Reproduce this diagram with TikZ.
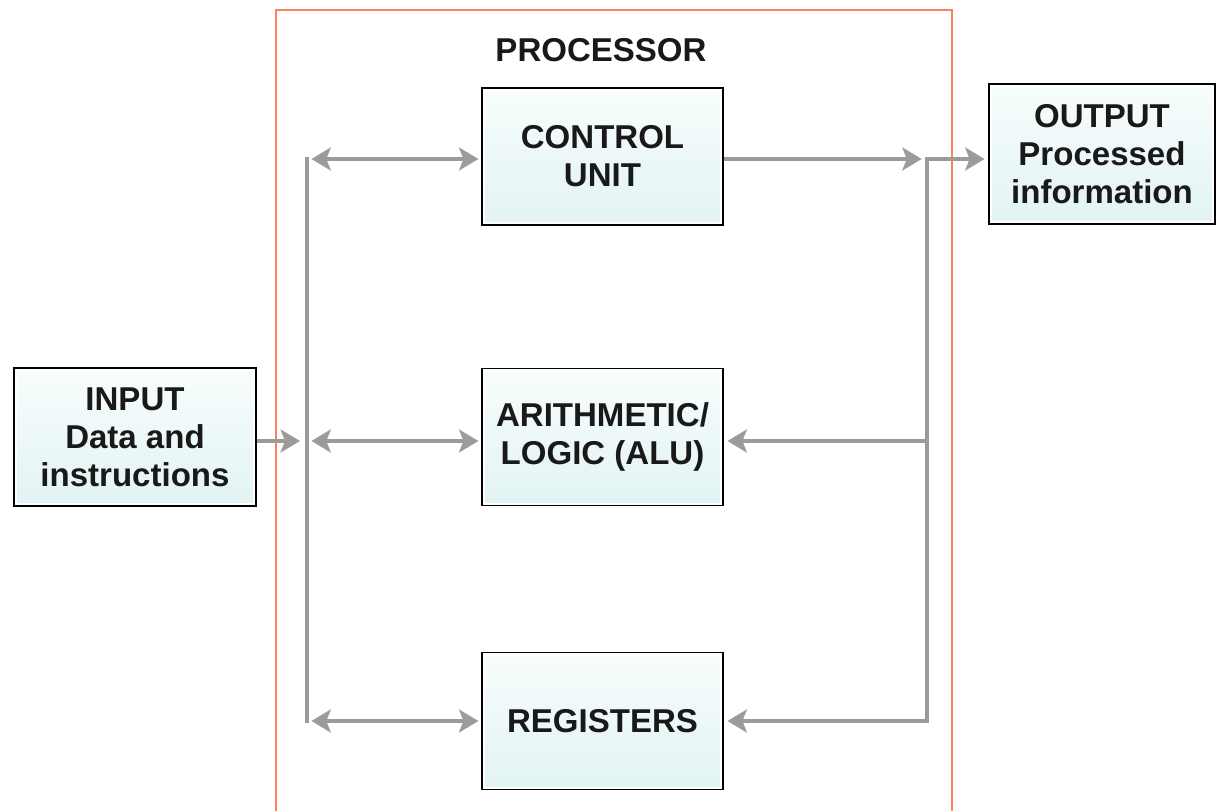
\documentclass[tikz,border=0pt]{standalone}
\usepackage{fontspec}
\setmainfont{Liberation Sans}
\usetikzlibrary{arrows.meta}

\definecolor{busgray}{RGB}{155,155,155}
\definecolor{frameorange}{RGB}{250,130,95}
\definecolor{boxtop}{RGB}{248,253,253}
\definecolor{boxbottom}{RGB}{226,243,243}
\definecolor{labeltext}{RGB}{25,25,25}

\begin{document}
\begin{tikzpicture}[
	x=0.02cm, y=-0.02cm,
	unit box/.style={draw=black, line width=1.1pt, top color=boxtop, bottom color=boxbottom,
		minimum width=4.82cm, minimum height=2.74cm, inner sep=0pt, align=center,
		text=labeltext, font=\bfseries\fontsize{18.8}{21.6}\selectfont,
		path picture={\draw[white, line width=3.4pt] (path picture bounding box.south west)
			rectangle (path picture bounding box.north east);}},
	bus line/.style={draw=busgray, line width=2.6pt, line cap=rect},
	bus arrow/.style={draw=busgray, line width=2.6pt,
		-{Stealth[length=11pt, width=13pt, inset=2.5pt]}},
	bus both/.style={draw=busgray, line width=2.6pt,
		{Stealth[length=11pt, width=13pt, inset=2.5pt]}-{Stealth[length=11pt, width=13pt, inset=2.5pt]}},
	frame line/.style={draw=frameorange, line width=1.1pt},
	title label/.style={text=labeltext, font=\bfseries\fontsize{18.8}{21.6}\selectfont},
	]
	\useasboundingbox (0,0) rectangle (1217,811);
	
	% processor frame, open at the bottom
	\draw[frame line] (276,811) -- (276,10) -- (952,10) -- (952,811);
	\node[title label] (proc) at (601,50) {PROCESSOR};
	
	% units inside the processor
	\node[unit box] (cu) at (602.5,156.5) {CONTROL\\UNIT};
	\node[unit box] (alu) at (602.5,437) {ARITHMETIC/\\LOGIC (ALU)};
	\node[unit box] (rg) at (602.5,721) {REGISTERS};
	
	% input and output
	\node[unit box, minimum width=4.84cm, minimum height=2.76cm] (in) at (135,437) {INPUT\\Data and\\instructions};
	\node[unit box, minimum width=4.52cm, minimum height=2.8cm] (out) at (1102,154) {OUTPUT\\Processed\\information};
	
	% bus corners
	\coordinate (lt) at (307,159);
	\coordinate (lm) at (307,441);
	\coordinate (lb) at (307,721);
	\coordinate (rt) at (927,159);
	\coordinate (rm) at (927,441);
	\coordinate (rb) at (927,721);
	
	% left bus
	\draw[bus line] (lt) -- (lb);
	\draw[bus both, shorten <=2.5pt, shorten >=1.5pt] (lt) -- (lt -| cu.west);
	\draw[bus arrow, shorten >=4pt] (in.east |- lm) -- (lm);
	\draw[bus both, shorten <=2.5pt, shorten >=1.5pt] (lm) -- (lm -| alu.west);
	\draw[bus both, shorten <=2.5pt, shorten >=1.5pt] (lb) -- (lb -| rg.west);
	
	% right bus
	\draw[bus line] (rt) -- (rb);
	\draw[bus arrow, shorten >=3pt] (cu.east |- rt) -- (rt);
	\draw[bus arrow, shorten >=2pt] (rt) -- (rt -| out.west);
	\draw[bus arrow, shorten >=2pt] (rm) -- (rm -| alu.east);
	\draw[bus arrow, shorten >=2pt] (rb) -- (rb -| rg.east);
	
\end{tikzpicture}
\end{document}
